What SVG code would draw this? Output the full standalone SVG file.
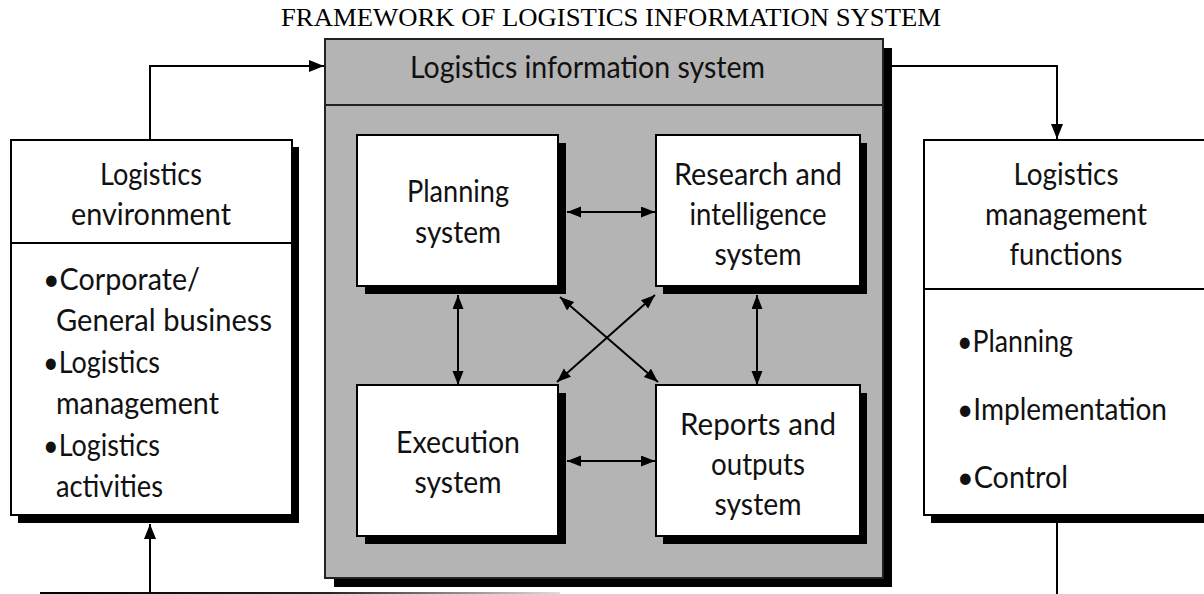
<svg xmlns="http://www.w3.org/2000/svg" width="1204" height="594" viewBox="0 0 1204 594">
<style>
.box{fill:#fff;stroke:#000;stroke-width:2}
.shadow{fill:#000}
.lbl{font-family:Lato,"Noto Sans",sans-serif;font-size:31px;fill:#111}
.mid{text-anchor:middle}
.conn{stroke:#000;stroke-width:2;fill:none}
.title{font-family:"Liberation Serif","Times New Roman",serif;font-size:26px;fill:#000;text-anchor:middle}
</style>
<defs>
<marker id="ah" markerUnits="userSpaceOnUse" markerWidth="16" markerHeight="14" refX="15" refY="6" orient="auto-start-reverse">
<path d="M0,0 L15,6 L0,12 z" fill="#000"/>
</marker>
<marker id="ahs" markerUnits="userSpaceOnUse" markerWidth="15" markerHeight="12" refX="14" refY="5.5" orient="auto-start-reverse">
<path d="M0,0 L14,5.5 L0,11 z" fill="#000"/>
</marker>
<linearGradient id="fade" gradientUnits="userSpaceOnUse" x1="40" y1="0" x2="560" y2="0">
<stop offset="0" stop-color="#000"/>
<stop offset="0.55" stop-color="#222"/>
<stop offset="1" stop-color="#ddd"/>
</linearGradient>
</defs>

<text class="title" x="611" y="26" textLength="660" lengthAdjust="spacingAndGlyphs">FRAMEWORK OF LOGISTICS INFORMATION SYSTEM</text>

<g id="lis">
<rect class="shadow" x="334" y="48" width="558" height="539"/>
<rect x="325" y="39" width="558" height="539" fill="#b4b4b4" stroke="#222" stroke-width="2"/>
<line x1="325" y1="105" x2="883" y2="105" stroke="#222" stroke-width="2"/>
<text class="lbl" x="410" y="78" textLength="355" lengthAdjust="spacingAndGlyphs">Logistics information system</text>
</g>

<g id="env">
<rect class="shadow" x="18" y="147" width="281" height="376"/>
<rect class="box" x="11" y="140" width="281" height="375"/>
<line x1="11" y1="243" x2="292" y2="243" stroke="#000" stroke-width="2"/>
<text class="lbl mid" x="151" y="185" textLength="102" lengthAdjust="spacingAndGlyphs">Logistics</text>
<text class="lbl mid" x="151" y="225" textLength="160" lengthAdjust="spacingAndGlyphs">environment</text>
<text class="lbl" x="43" y="290" textLength="157" lengthAdjust="spacingAndGlyphs">•Corporate/</text>
<text class="lbl" x="56" y="331" textLength="216" lengthAdjust="spacingAndGlyphs">General business</text>
<text class="lbl" x="43" y="373" textLength="117" lengthAdjust="spacingAndGlyphs">•Logistics</text>
<text class="lbl" x="56" y="414" textLength="163" lengthAdjust="spacingAndGlyphs">management</text>
<text class="lbl" x="43" y="456" textLength="117" lengthAdjust="spacingAndGlyphs">•Logistics</text>
<text class="lbl" x="56" y="497" textLength="107" lengthAdjust="spacingAndGlyphs">activities</text>
</g>

<g id="functions">
<rect class="shadow" x="931" y="147" width="290" height="376"/>
<rect class="box" x="924" y="140" width="284" height="375"/>
<line x1="924" y1="289" x2="1208" y2="289" stroke="#000" stroke-width="2"/>
<text class="lbl mid" x="1066" y="185" textLength="105" lengthAdjust="spacingAndGlyphs">Logistics</text>
<text class="lbl mid" x="1066" y="225" textLength="162" lengthAdjust="spacingAndGlyphs">management</text>
<text class="lbl mid" x="1066" y="265" textLength="113" lengthAdjust="spacingAndGlyphs">functions</text>
<text class="lbl" x="957" y="352" textLength="116" lengthAdjust="spacingAndGlyphs">•Planning</text>
<text class="lbl" x="957" y="420" textLength="210" lengthAdjust="spacingAndGlyphs">•Implementation</text>
<text class="lbl" x="957" y="488" textLength="111" lengthAdjust="spacingAndGlyphs">•Control</text>
</g>

<g id="planning">
<rect class="shadow" x="365" y="143" width="201" height="151"/>
<rect class="box" x="357" y="135" width="201" height="151"/>
<text class="lbl mid" x="458" y="202" textLength="102" lengthAdjust="spacingAndGlyphs">Planning</text>
<text class="lbl mid" x="458" y="243" textLength="86" lengthAdjust="spacingAndGlyphs">system</text>
</g>

<g id="research">
<rect class="shadow" x="663" y="143" width="204" height="151"/>
<rect class="box" x="656" y="135" width="204" height="151"/>
<text class="lbl mid" x="758" y="185" textLength="168" lengthAdjust="spacingAndGlyphs">Research and</text>
<text class="lbl mid" x="758" y="225" textLength="137" lengthAdjust="spacingAndGlyphs">intelligence</text>
<text class="lbl mid" x="758" y="265" textLength="87" lengthAdjust="spacingAndGlyphs">system</text>
</g>

<g id="execution">
<rect class="shadow" x="365" y="393" width="201" height="151"/>
<rect class="box" x="357" y="385" width="201" height="151"/>
<text class="lbl mid" x="458" y="453" textLength="124" lengthAdjust="spacingAndGlyphs">Execution</text>
<text class="lbl mid" x="458" y="493" textLength="87" lengthAdjust="spacingAndGlyphs">system</text>
</g>

<g id="reports">
<rect class="shadow" x="663" y="393" width="204" height="151"/>
<rect class="box" x="656" y="385" width="204" height="151"/>
<text class="lbl mid" x="758" y="435" textLength="156" lengthAdjust="spacingAndGlyphs">Reports and</text>
<text class="lbl mid" x="758" y="475" textLength="94" lengthAdjust="spacingAndGlyphs">outputs</text>
<text class="lbl mid" x="758" y="515" textLength="87" lengthAdjust="spacingAndGlyphs">system</text>
</g>

<g id="connectors">
<polyline class="conn" points="150,140 150,66 324,66" marker-end="url(#ah)"/>
<polyline class="conn" points="892,66 1057,66 1057,139" marker-end="url(#ah)"/>
<line class="conn" x1="1057" y1="523" x2="1057" y2="594"/>
<line class="conn" x1="150" y1="594" x2="150" y2="524" marker-end="url(#ah)"/>
<line x1="40" y1="593" x2="560" y2="593" stroke="url(#fade)" stroke-width="2"/>
<line class="conn" x1="567" y1="212" x2="655" y2="212" marker-start="url(#ahs)" marker-end="url(#ahs)"/>
<line class="conn" x1="567" y1="461" x2="655" y2="461" marker-start="url(#ahs)" marker-end="url(#ahs)"/>
<line class="conn" x1="458" y1="295" x2="458" y2="385" marker-start="url(#ahs)" marker-end="url(#ahs)"/>
<line class="conn" x1="757" y1="295" x2="757" y2="385" marker-start="url(#ahs)" marker-end="url(#ahs)"/>
<line class="conn" x1="560" y1="297" x2="658" y2="382" marker-start="url(#ahs)" marker-end="url(#ahs)"/>
<line class="conn" x1="655" y1="295" x2="557" y2="382" marker-start="url(#ahs)" marker-end="url(#ahs)"/>
</g>
</svg>
